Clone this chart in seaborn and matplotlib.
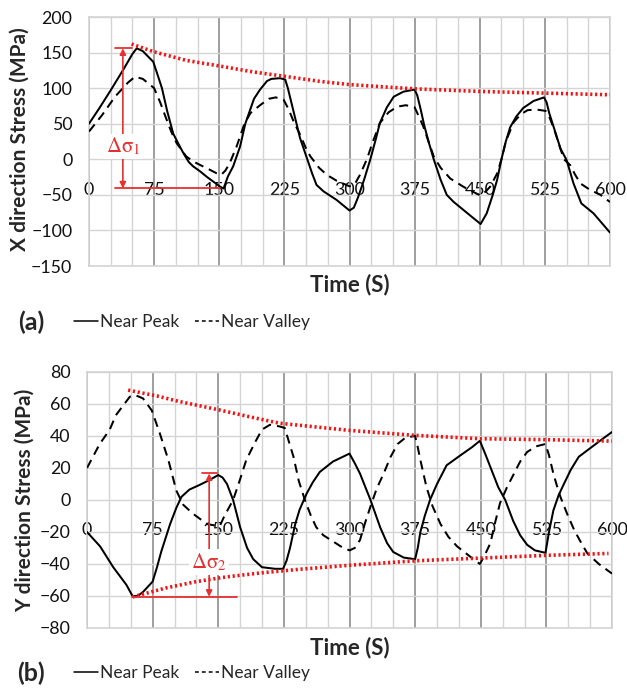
import numpy as np
import pandas as pd
import matplotlib
matplotlib.use("Agg")
import matplotlib.pyplot as plt
from matplotlib.lines import Line2D
import seaborn as sns

# ---------------- data ----------------
# (a) X direction stress, MPa
x_peak_t = [0, 12, 25, 40, 50, 55, 62, 74, 80, 84, 90, 97, 105, 109, 115, 120, 128, 136, 145, 151, 155,
            160, 166, 174, 180, 190, 197, 205, 210, 220, 226, 229, 233, 238, 243, 250, 257, 262, 270, 285,
            300, 305, 310, 317, 324, 330, 335, 343, 351, 362, 375, 378, 382, 386, 391, 397, 405, 412, 420,
            435, 451, 458, 465, 470, 475, 480, 485, 492, 500, 512, 524, 527, 530, 536, 543, 550, 558, 567,
            581, 600]
x_peak_v = [50, 72, 97, 127, 148, 156, 152, 137, 115, 100, 68, 36, 17, 8, -4, -10, -17, -25, -33, -38.5, -41,
            -24, -10, 18, 50, 85, 98, 110, 113, 114, 112, 100, 80, 55, 30, 5, -20, -36, -45, -57,
            -72, -68, -53, -28, 0, 27, 51, 73, 88, 95, 98, 90, 70, 48, 25, 0, -29, -50, -60,
            -75, -91, -76, -50, -29, 0, 25, 45, 60, 72, 82, 87, 80, 65, 42, 15, -1, -34, -62,
            -76, -103]
x_valley_t = [0, 15, 30, 45, 53, 62, 75, 82, 89, 95, 101, 112, 120, 128, 138, 147, 152, 157, 162, 170, 179,
              186, 197, 207, 215, 224, 230, 236, 243, 250, 255, 265, 274, 285, 300, 306, 312, 320, 327, 335,
              345, 355, 365, 375, 380, 385, 391, 397, 405, 416, 431, 441, 451, 457, 462, 470, 475, 480, 489,
              497, 505, 515, 526, 530, 536, 542, 547, 554, 560, 566, 577, 589, 600]
x_valley_v = [39, 62, 88, 108, 116, 113, 100, 80, 57, 38, 22.5, 4, -3, -8, -14, -19.7, -22, -16, -5.6, 18, 50,
              65, 76, 85, 87, 84, 70, 52, 35, 15, 4, -12, -22, -30, -38, -35, -22, 0, 25, 51,
              66, 74, 76, 73, 60, 46, 25, 4, -12, -27, -38.5, -45, -51, -45, -38.5, -20, 0, 25, 52,
              63, 69, 70, 68, 60, 41, 18, 0, -8, -22, -34, -43, -50, -60]
x_env_t = [49, 75, 112, 151, 188, 226, 266, 300, 375, 450, 525, 600]
x_env_v = [162, 151, 139, 131, 123, 116.5, 109.5, 105, 99, 95.4, 93, 90.7]

# (b) Y direction stress, MPa
y_peak_t = [0, 15, 30, 45, 52, 58, 64, 75, 80, 85, 95, 102, 108, 117, 129, 140, 150, 155, 160, 167, 175,
            183, 190, 200, 215, 224, 228, 232, 238, 243, 251, 258, 266, 281, 300, 306, 312, 324, 335, 343,
            350, 362, 375, 378, 381, 386, 392, 400, 411, 427, 440, 449, 455, 461, 470, 478, 487, 495, 503,
            512, 524, 528, 533, 539, 545, 553, 562, 579, 590, 600]
y_peak_v = [-20, -29, -42, -53, -60, -60, -57.5, -51, -42, -32, -15, -5, 2, 6.5, 9.5, 12.5, 15.6, 14, 10, 0, -17,
            -30, -37, -42, -43, -43, -38, -30, -15, -6, 4, 11, 17.5, 24, 29, 23, 16.5, 0, -17, -27,
            -32.5, -36, -37, -30, -20, -10, 0, 10, 21.7, 28, 33, 37, 29, 20.6, 8, 0, -13, -22, -28,
            -31.5, -33, -20, -6.5, 3, 10, 19, 27, 34, 38.5, 42.5]
y_valley_t = [0, 14.5, 26, 33, 49, 55, 64, 74, 83, 93, 102, 110, 121, 137, 147, 152, 157, 167, 175, 182, 192,
              200, 209, 220, 226, 231, 236, 242, 249, 256, 262, 270, 281.5, 290, 300, 306, 312, 318, 324, 331,
              339, 347, 355, 364, 375, 378, 381, 388, 395, 404, 413, 423, 437, 449, 455, 461, 466, 472, 480,
              488, 495, 503, 513, 524, 528, 533, 537, 541, 549, 557, 565, 572, 585, 600]
y_valley_v = [20, 35, 44, 53, 64.6, 65.6, 63.5, 56, 42, 25, 6, -3, -8.5, -15, -16, -16, -10, 0, 13, 25, 36,
              44, 47, 46, 45, 36, 27, 12, 0, -10, -17, -22, -26, -29, -31.5, -30, -25, -14, -4, 7,
              16.5, 27, 35, 39, 40, 33, 25, 8, -4, -15, -23, -29, -35, -40, -34, -27, -15, -2, 8,
              16.5, 24, 30, 33.5, 35, 28, 16.5, 9, 2, -9, -19, -27, -33.5, -40, -46]
y_env_top_t = [47, 80, 106, 152, 190, 220, 243, 300, 375, 449, 525, 600]
y_env_top_v = [68.7, 65, 61.5, 56.2, 51.5, 48, 46.7, 43.5, 40.4, 38.3, 37.7, 36.8]
y_env_bot_t = [52, 90, 125, 160, 200, 243, 300, 375, 450, 525, 596]
y_env_bot_v = [-60.6, -55, -51, -48, -45.5, -43.3, -40.8, -38, -36.3, -34.6, -33.4]

x_ticks = list(range(0, 601, 75))
legend_labels = ["Near Peak", "Near Valley"]

# ---------------- style ----------------
sns.set_theme(style="white")
plt.rcParams["font.family"] = ["Lato", "DejaVu Sans"]
plt.rcParams["mathtext.fontset"] = "stix"

RED_DOT = "#f01414"
RED_ANN = "#e53030"
GRID_LIGHT = "#d4d4d4"
GRID_DARK = "#8e8e8e"

fig = plt.figure(figsize=(6.27, 6.88), dpi=100)
W, H = 627, 688


def axes_px(left, top, right, bottom):
    return fig.add_axes([left / W, 1 - bottom / H, (right - left) / W, (bottom - top) / H])


def style_axes(ax, ylim, ystep, ylabel, label_x, label_y, xlabel_y):
    ax.set_xlim(0, 600)
    ax.set_ylim(*ylim)
    ax.set_yticks(np.arange(ylim[0], ylim[1] + 1, ystep))
    ax.set_xticks(x_ticks)
    ax.set_xticks(np.arange(0, 601, 25), minor=True)
    ax.set_axisbelow(True)
    ax.grid(True, which="minor", axis="x", color=GRID_LIGHT, lw=1.0)
    ax.grid(True, which="major", axis="x", color=GRID_DARK, lw=1.2)
    ax.grid(True, which="major", axis="y", color=GRID_LIGHT, lw=1.0)
    for s in ax.spines.values():
        s.set_color(GRID_LIGHT)
        s.set_linewidth(1.2)
        s.set_zorder(1)
    ax.tick_params(axis="x", which="both", length=0, labelbottom=False)
    ax.tick_params(axis="y", length=0, pad=12, labelsize=12.8, colors="#111111")
    # x tick labels sit just under the zero line
    loc = (0 - ylim[0]) / (ylim[1] - ylim[0])
    sec = ax.secondary_xaxis(loc)
    sec.xaxis.tick_bottom()
    sec.set_xticks(x_ticks)
    sec.tick_params(axis="x", length=0, pad=16, labelsize=12.8, colors="#111111",
                    labelbottom=True, labeltop=False)
    for s in sec.spines.values():
        s.set_visible(False)
    ax.set_ylabel(ylabel, fontsize=15, fontweight="bold")
    ax.yaxis.set_label_coords(label_x, label_y)
    ax.set_xlabel("Time (S)", fontsize=16, fontweight="bold")
    ax.xaxis.set_label_coords(0.5, xlabel_y)
    ax.set_facecolor("white")


def draw_series(ax, t_peak, v_peak, t_valley, v_valley):
    sns.lineplot(x=t_peak, y=v_peak, ax=ax, color="black", lw=1.45, sort=False, estimator=None)
    sns.lineplot(x=t_valley, y=v_valley, ax=ax, color="black", lw=1.45, sort=False, estimator=None,
                 linestyle=(0, (4.5, 3)))


def draw_envelope(ax, t, v):
    sns.lineplot(x=t, y=v, ax=ax, color=RED_DOT, lw=2.6, sort=False, estimator=None,
                 linestyle=(0, (0.6, 0.75)))


def delta_marker(ax, xpos, top, bottom, top_span, bot_span, label, label_y):
    ax.annotate("", xy=(xpos, top), xytext=(xpos, bottom),
                arrowprops=dict(arrowstyle="<|-|>", color=RED_ANN, lw=1.2,
                                mutation_scale=9, shrinkA=0, shrinkB=0))
    ax.plot(top_span, [top, top], color=RED_ANN, lw=1.3)
    ax.plot(bot_span, [bottom, bottom], color=RED_ANN, lw=1.3)
    ax.text(xpos, label_y, label, color=RED_ANN, fontsize=15, ha="center", va="center",
            bbox=dict(facecolor="white", edgecolor="none", pad=1.5))


def panel_legend(ypix, tag):
    fig.text(31 / W, 1 - ypix / H, tag, fontsize=18, fontweight="bold", ha="center", va="center")
    handles = [Line2D([], [], color="black", lw=1.1),
               Line2D([], [], color="black", lw=1.1, linestyle=(0, (2.5, 2)))]
    fig.legend(handles, legend_labels, loc="center left", bbox_to_anchor=(74 / W, 1 - ypix / H),
               ncol=2, frameon=False, fontsize=12.5, handlelength=1.4, handletextpad=0.1,
               columnspacing=0.9, borderpad=0, borderaxespad=0)


# ---------------- (a) X direction ----------------
ax1 = axes_px(89, 17, 610, 266)
style_axes(ax1, (-150, 200), 50, "X direction Stress (MPa)", -0.113, 0.51, -0.03)
draw_series(ax1, x_peak_t, x_peak_v, x_valley_t, x_valley_v)
draw_envelope(ax1, x_env_t, x_env_v)
x_top = max(x_peak_v)
x_bot = min(v for t, v in zip(x_peak_t, x_peak_v) if t < 200)
delta_marker(ax1, 39, x_top, x_bot, [30, 49], [30, 151], r"$\mathrm{\Delta\sigma}_1$", 18)
panel_legend(322, "(a)")

# ---------------- (b) Y direction ----------------
ax2 = axes_px(87, 372, 612, 628)
style_axes(ax2, (-80, 80), 20, "Y direction Stress (MPa)", -0.099, 0.5, -0.035)
draw_series(ax2, y_peak_t, y_peak_v, y_valley_t, y_valley_v)
draw_envelope(ax2, y_env_top_t, y_env_top_v)
draw_envelope(ax2, y_env_bot_t, y_env_bot_v)
y_top = max(v for t, v in zip(y_peak_t, y_peak_v) if t < 200)
y_bot = min(y_peak_v)
delta_marker(ax2, 139.6, y_top + 1, y_bot - 0.5, [131, 148], [51, 171], r"$\mathrm{\Delta\sigma}_2$", -39)
panel_legend(673, "(b)")

fig.savefig("out.png", dpi=100, facecolor="white")
